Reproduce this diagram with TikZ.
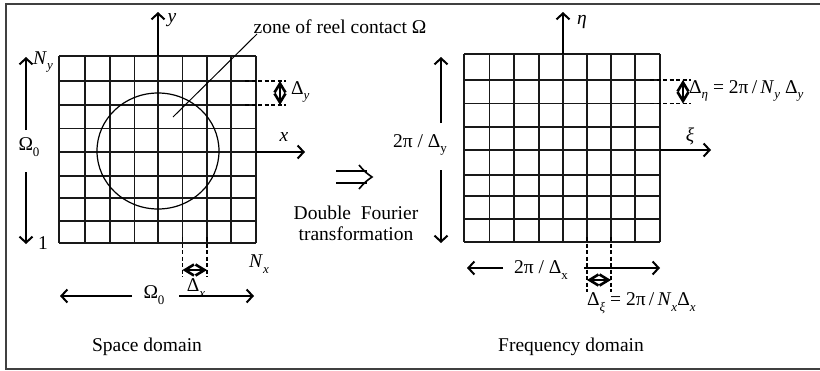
\documentclass[tikz,border=0pt]{standalone}
\usepackage{fontspec}
\setmainfont{Liberation Serif}
\usetikzlibrary{arrows.meta}
\newcommand\sbs[1]{\raisebox{-0.28em}{\fontsize{13}{13}\selectfont #1}}
\begin{document}
\begin{tikzpicture}[x=1pt,y=-1pt,
  lbl/.style={font=\fontsize{19.5}{23}\selectfont, inner sep=0pt},
  gridln/.style={line width=1.5pt, black!90},
  axisarr/.style={line width=2pt, -{Straight Barb[length=6pt,width=13pt]}},
  dimarr/.style={line width=2.6pt, {Straight Barb[length=9pt,width=11pt]}-{Straight Barb[length=9pt,width=11pt]}},
  dashln/.style={line width=1.6pt, dash pattern=on 4pt off 2.5pt},
  thinln/.style={line width=1pt}]
\useasboundingbox (0,0) rectangle (820,370);
\draw[line width=1.5pt, black!75] (6,4) rectangle (840,369);

% ---------- left grid ----------
\foreach \x in {59,85,110,134.5,158,182.5,207,231,256}
  \draw[gridln] (\x,56) -- (\x,243);
\foreach \y in {56,81,105,128.5,152,176,198,221,243}
  \draw[gridln] (59,\y) -- (256,\y);
\draw[line width=1.2pt] (158,151) ellipse [x radius=61, y radius=58];
\coordinate (lgT) at (158,56);
\coordinate (lgR) at (256,152);
\coordinate (ytip) at (158,12);
\coordinate (xtip) at (305,152);
\draw[axisarr] (lgT) -- (ytip);
\draw[axisarr] (lgR) -- (xtip);
\node[lbl] (ylab) at (172,20) {\textit{y}};
\node[lbl] (xlab) at (284,137) {\textit{x}};
\node[lbl] (zone) at (340,27) {zone of reel contact Ω};
\coordinate (zoneend) at (173,117);
\draw[thinln] (257,34) -- (zoneend);

% Delta y marker
\coordinate (dyA) at (280,81);
\coordinate (dyB) at (280,105);
\draw[dashln] (245,81) -- (286,81);
\draw[dashln] (245,105) -- (286,105);
\draw[dimarr] (dyA) -- (dyB);
\node[lbl, anchor=west] (dylab) at (291,92) {Δ\sbs{\textit{y}}};

% N_y / Omega_0 / 1 vertical
\node[lbl] (Om0v) at (29,147) {Ω\sbs{0}};
\coordinate (nyTip) at (26,57);
\coordinate (oneTip) at (26,244);
\draw[axisarr] (26,130) -- (nyTip);
\draw[axisarr] (26,172) -- (oneTip);
\node[lbl] (Ny) at (43,62) {\textit{N}\sbs{\textit{y}}};
\node[lbl] (one) at (43,243) {1};

% Delta x marker
\draw[dashln] (182.5,237) -- (182.5,277);
\draw[dashln] (207,237) -- (207,277);
\coordinate (dxA) at (182.5,270);
\coordinate (dxB) at (207,270);
\draw[dimarr] (dxA) -- (dxB);
\node[lbl] (Nx) at (259,264) {\textit{N}\sbs{\textit{x}}};

% Omega_0 horizontal
\node[lbl] (Om0h) at (154,295) {Ω\sbs{0}};
\coordinate (hL) at (60,296);
\coordinate (hR) at (254,296);
\draw[axisarr] (132,296) -- (hL);
\draw[axisarr] (179,296) -- (hR);
\node[lbl] (dxlab) at (196,288) {Δ\sbs{\textit{x}}};

\node[lbl] (space) at (147,347) {Space domain};

% ---------- implies + caption ----------
\draw[line width=1.6pt] (336,171) -- (367,171);
\draw[line width=1.6pt] (336,183) -- (367,183);
\draw[line width=1.6pt] (359,165) .. controls (365,172) .. (372,177) .. controls (365,182) .. (359,189);
\node[lbl, align=center] (dft) at (356,223) {Double\ \ Fourier\\[-2pt]transformation};

% ---------- right grid ----------
\foreach \x in {464,489.5,514,539,563,587,611,635,660}
  \draw[gridln] (\x,54) -- (\x,242);
\foreach \y in {54,80,103.5,127,150,175,196,219,242}
  \draw[gridln] (464,\y) -- (660,\y);
\coordinate (rgT) at (563,54);
\coordinate (rgR) at (660,150);
\coordinate (etatip) at (563,12);
\coordinate (xitip) at (711,150);
\draw[axisarr] (rgT) -- (etatip);
\draw[axisarr] (rgR) -- (xitip);
\node[lbl] (etalab) at (582,22) {\textit{η}};
\node[lbl] (xilab) at (690,136) {\textit{ξ}};

% Delta eta marker
\draw[dashln] (650,80) -- (691,80);
\draw[dashln] (650,103.5) -- (691,103.5);
\coordinate (deA) at (683,80);
\coordinate (deB) at (683,103.5);
\draw[dimarr] (deA) -- (deB);
\node[lbl, anchor=west] (delab) at (689,91) {Δ\sbs{\textit{η}} = 2π\,/\,\textit{N}\sbs{\textit{y}} Δ\sbs{\textit{y}}};

% 2pi / Delta y vertical
\node[lbl] (tpdy) at (420,145) {2π / Δ\sbs{y}};
\coordinate (vUp) at (441,57);
\coordinate (vDn) at (441,243);
\draw[axisarr] (441,123) -- (vUp);
\draw[axisarr] (441,170) -- (vDn);

% 2pi / Delta x horizontal
\node[lbl] (tpdx) at (541,270) {2π / Δ\sbs{x}};
\coordinate (bL) at (467,268);
\coordinate (bR) at (660,268);
\draw[axisarr] (503,268) -- (bL);
\draw[axisarr] (584,268) -- (bR);

% Delta xi marker
\draw[dashln] (587,237) -- (587,292);
\draw[dashln] (611,237) -- (611,292);
\coordinate (dxiA) at (587,280);
\coordinate (dxiB) at (611,280);
\draw[dimarr] (dxiA) -- (dxiB);
\node[lbl, anchor=west] (dxilab) at (587,303) {Δ\sbs{\textit{ξ}} = 2π\,/\,\textit{N}\sbs{\textit{x}}Δ\sbs{\textit{x}}};

\node[lbl] (freq) at (571,347) {Frequency domain};
\end{tikzpicture}
\end{document}
